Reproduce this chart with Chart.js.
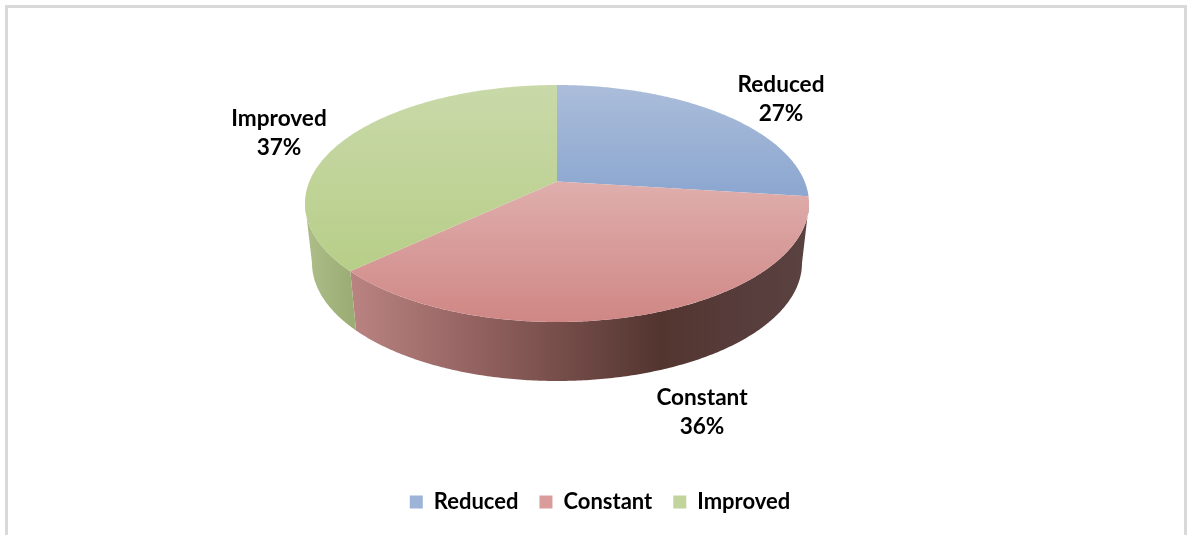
<!DOCTYPE html>
<html><head><meta charset="utf-8">
<style>
html,body{margin:0;padding:0;background:#fff;overflow:hidden}
#wrap{position:relative;width:1191px;height:535px}
#frame{position:absolute;left:5px;top:5px;width:1176px;height:530px;border:solid #d9d9d9;border-width:3px 3px 0 3px;box-sizing:content-box}
canvas{position:absolute;left:0;top:0}
</style>
<script src="https://cdn.jsdelivr.net/npm/chart.js@4"></script>
</head><body>
<div id="wrap"><div id="frame"></div><canvas id="c" width="1191" height="535"></canvas></div>
<script>
const categories = ['Reduced','Constant','Improved'];
const values = [27,36,37];
const legendColors = ['#9db3d7','#d99c9b','#c0d49c'];
const topGradients = [['#abbdda','#8ca7d0',85,193],['#dfaeac','#cf8785',183,322],['#c9d9a9','#b7ce88',85,270]];
const labelAnchors = [[781,85],[702,398],[279,119]];

const FONT = '700 22.6px Lato';
const TOP = {cx:557,cy:203.5,rx:252,ry:118.5};
const BOT = {cx:557,cy:263,rx:245,ry:118};
const K = -0.185;
function project(e,a){
  const u=Math.cos(a), v=Math.sin(a), d=1+K*v;
  return [e.cx+e.rx*u*Math.sqrt(1-K*K)/d, e.cy+e.ry*(v+K)/d];
}
function trace(ctx,e,a0,a1,first){
  const n=Math.max(2,Math.ceil(Math.abs(a1-a0)/0.01));
  for(let i=0;i<=n;i++){
    const p=project(e,a0+(a1-a0)*i/n);
    if(i===0&&first) ctx.moveTo(p[0],p[1]); else ctx.lineTo(p[0],p[1]);
  }
}
const A_RIGHT=Math.asin(-K), A_LEFT=Math.PI-Math.asin(-K);
const pseudo3d={
  id:'pseudo3d',
  beforeDatasetsDraw(chart){
    const ctx=chart.ctx, arcs=chart.getDatasetMeta(0).data;
    ctx.save();
    // side walls of the visible front half
    arcs.forEach((arc,i)=>{
      const a0=Math.max(arc.startAngle,A_RIGHT), a1=Math.min(arc.endAngle,A_LEFT);
      if(a1<=a0) return;
      let g;
      if(i===1){
        g=ctx.createLinearGradient(352,0,805,0);
        g.addColorStop(0,'#b98381');g.addColorStop(0.3,'#8f5f5d');g.addColorStop(0.68,'#53352f');g.addColorStop(0.8,'#553a38');g.addColorStop(1,'#5a4240');
      }else{
        g=ctx.createLinearGradient(308,0,352,0);
        g.addColorStop(0,'#acbd88');g.addColorStop(1,'#9bad74');
      }
      ctx.beginPath();
      trace(ctx,TOP,a0,a1,true);
      trace(ctx,BOT,a1,a0,false);
      ctx.closePath();
      ctx.fillStyle=g;ctx.fill();
    });
    // top face
    arcs.forEach((arc,i)=>{
      const t=topGradients[i];
      const g=ctx.createLinearGradient(0,t[2],0,t[3]);
      g.addColorStop(0,t[0]);g.addColorStop(1,t[1]);
      const apex=[TOP.cx,TOP.cy+TOP.ry*K];
      ctx.beginPath();
      ctx.moveTo(apex[0],apex[1]);
      trace(ctx,TOP,arc.startAngle,arc.endAngle,false);
      ctx.closePath();
      ctx.fillStyle=g;ctx.fill();
    });
    ctx.restore();
    return false;
  },
  afterDraw(chart){
    const ctx=chart.ctx, total=values.reduce((a,b)=>a+b,0);
    ctx.save();
    ctx.font=FONT;ctx.fillStyle='#000';ctx.textAlign='center';ctx.textBaseline='middle';
    categories.forEach((c,i)=>{
      const [x,y]=labelAnchors[i];
      ctx.fillText(c,x,y);
      ctx.fillText(Math.round(values[i]/total*100)+'%',x,y+29);
    });
    ctx.restore();
  }
};
new Chart(document.getElementById('c'),{
  type:'pie',
  data:{labels:categories,datasets:[{data:values,backgroundColor:legendColors,borderWidth:0}]},
  options:{
    responsive:false,animation:false,
    layout:{padding:{bottom:12,top:0,left:9}},
    plugins:{
      tooltip:{enabled:false},
      legend:{position:'bottom',labels:{boxWidth:13,boxHeight:13,padding:21,color:'#000',font:{family:'Lato',size:22,weight:'700'}}}
    }
  },
  plugins:[pseudo3d]
});
</script>
</body></html>
